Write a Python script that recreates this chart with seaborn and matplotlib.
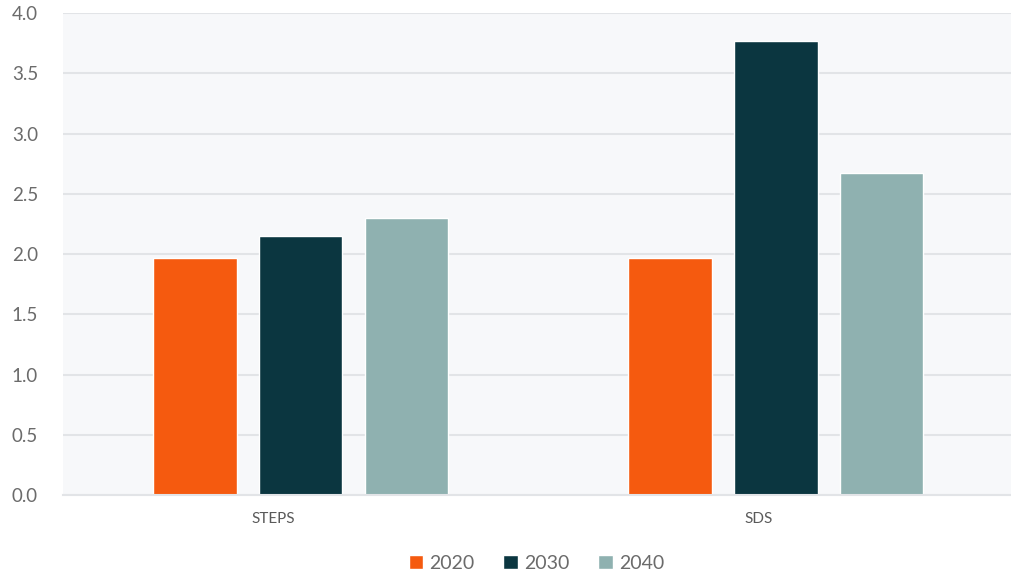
import pandas as pd
import matplotlib.pyplot as plt
import matplotlib.transforms as mtransforms
import seaborn as sns

# values
scenarios = ["STEPS", "SDS"]
years = ["2020", "2030", "2040"]
values_2020 = [1.97, 1.97]
values_2030 = [2.15, 3.77]
values_2040 = [2.30, 2.67]

colors = ["#f55a0f", "#0b3640", "#8fb1b0"]

data = pd.DataFrame({
    "Scenario": scenarios * 3,
    "Year": [y for y in years for _ in scenarios],
    "Value": values_2020 + values_2030 + values_2040,
})

sns.set_theme(style="white")
plt.rcParams["font.family"] = ["Lato", "DejaVu Sans"]

fig = plt.figure(figsize=(10.11, 5.75), dpi=100)
ax = fig.add_axes([0.0623, 0.139, 0.94, 0.838])
ax.set_facecolor("#f7f8fa")

sns.barplot(data=data, x="Scenario", y="Value", hue="Year", palette=colors,
            width=0.668, gap=0.21, ax=ax, saturation=1)

ax.set_ylim(0, 4.0)
ax.set_xlim(-0.5, 1.5)
ax.set_yticks([0, 0.5, 1.0, 1.5, 2.0, 2.5, 3.0, 3.5, 4.0])
ax.set_yticklabels([f"{v:.1f}" for v in ax.get_yticks()])
ax.yaxis.grid(True, color="#e2e4e7", linewidth=1.5)
ax.set_axisbelow(True)
for s in ["top", "right", "left"]:
    ax.spines[s].set_visible(False)
ax.spines["bottom"].set_color("#e2e4e7")
ax.spines["bottom"].set_linewidth(1.5)

ax.tick_params(axis="y", length=0, pad=18, labelsize=13.5, labelcolor="#6b6b6b")
ax.tick_params(axis="x", length=0, pad=12, labelsize=11, labelcolor="#5a5a5a")
ax.set_xlabel("")
ax.set_ylabel("")

# category labels sit a bit left of the group centres in the original
for lab, dx in zip(ax.get_xticklabels(), [-27, -17]):
    lab.set_transform(lab.get_transform() + mtransforms.ScaledTranslation(dx / 100, 0, fig.dpi_scale_trans))

ax.legend(loc="upper center", bbox_to_anchor=(0.498, -0.088), ncol=3, frameon=False,
          fontsize=14, labelcolor="#6b6b6b", handlelength=0.75, handleheight=0.75,
          columnspacing=1.5, handletextpad=0.3)

plt.savefig("out.png", dpi=100)
